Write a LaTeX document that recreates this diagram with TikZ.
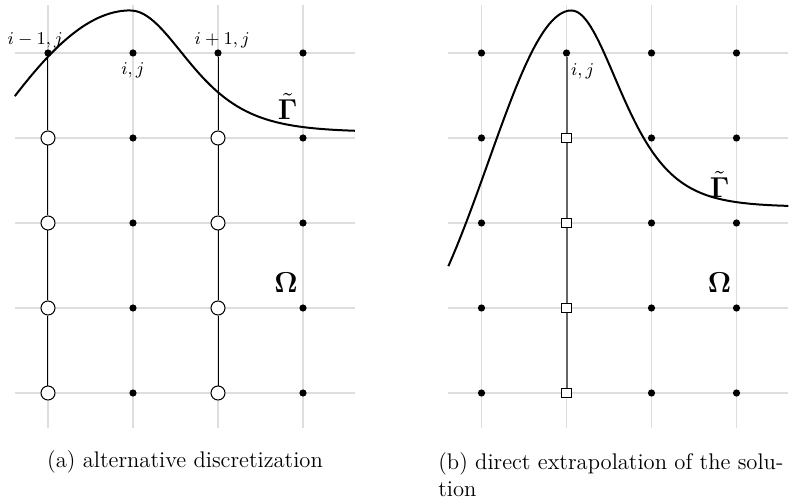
\documentclass[tikz,border=0pt]{standalone}
\usepackage{amsmath}
\usepackage{amssymb}
\usepackage{bm}
\usepackage{xcolor}
\usepackage{tikz}
\usetikzlibrary{positioning,calc}
\definecolor{gridgray}{HTML}{DEDEDE}
\definecolor{stemgray}{HTML}{666666}
\tikzset{
  gridline/.style={draw=gridgray,line width=0.7pt},
  gridpt/.style={circle,fill=black,inner sep=0pt,minimum size=3.6pt},
  holept/.style={circle,draw=black,fill=white,inner sep=0pt,minimum size=7pt,line width=0.5pt},
  ghostpt/.style={rectangle,draw=black,fill=white,inner sep=0pt,minimum size=4.6pt,line width=0.5pt},
  stem/.style={draw=black,line width=0.5pt},
  stemgrey/.style={draw=stemgray,line width=1pt},
  boundary/.style={draw=black,line width=1pt},
  ptlabel/.style={font=\small,inner sep=0pt},
  domlabel/.style={font=\Large,inner sep=0pt},
  subcap/.style={font=\fontsize{11.3}{13.6}\selectfont,inner sep=0pt,align=left}
}

\begin{document}
\begin{tikzpicture}[x=42.5pt,y=42.5pt]
\useasboundingbox (-0.5647,-1.2941) rectangle (8.8118,4.6235);

% (a) alternative discretization
\foreach \r in {0,...,4}{\draw[gridline] (-0.39,\r) -- (3.61,\r);}
\foreach \c in {0,...,3}{\draw[gridline] (\c,-0.41) -- (\c,4.565);}
\draw[boundary] plot[domain=-0.39:0.97,samples=40] (\x,{4.5*exp(-(((\x-0.97)/2.7)^2))})
  -- plot[domain=0.97:3.61,samples=80] (\x,{3.07+1.43/(cosh((\x-0.97)/0.89)^2)});
\foreach \c in {1,3}{\foreach \r in {0,...,4}{\node[gridpt] (a\c\r) at (\c,\r) {};}}
\foreach \c in {0,2}{
  \node[gridpt] (a\c4) at (\c,4) {};
  \foreach \r in {0,...,3}{\node[holept] (a\c\r) at (\c,\r) {};}
}
\foreach \c in {0,2}{\foreach \r [evaluate=\r as \s using int(\r+1)] in {0,...,3}{\draw[stem] (a\c\r) -- (a\c\s);}}
\node[ptlabel] (lm) at (-0.15,4.15) {$i-1,j$};
\node[ptlabel] (lc) at (1.0,3.8) {$i,j$};
\node[ptlabel] (lp) at (2.05,4.15) {$i+1,j$};
\node[domlabel] (ga) at (2.82,3.37) {$\tilde{\bm\Gamma}$};
\node[domlabel] (oa) at (2.8,1.3) {$\bm\Omega$};
\node[subcap] (capa) at (1.612,-0.812) {(a)\ alternative discretization};

% (b) direct extrapolation
\begin{scope}[shift={(5.1,0)}]
\foreach \r in {0,...,4}{\draw[gridline] (-0.39,\r) -- (3.61,\r);}
\foreach \c in {0,...,3}{\draw[gridline] (\c,-0.41) -- (\c,4.565);}
\draw[boundary] plot[domain=-0.39:1.06,samples=50] (\x,{4.5*exp(-(((\x-1.06)/1.38)^2))})
  -- plot[domain=1.06:3.61,samples=80] (\x,{2.19+2.31/(cosh((\x-1.06)/0.76)^2)});
\foreach \c in {0,2,3}{\foreach \r in {0,...,4}{\node[gridpt] (b\c\r) at (\c,\r) {};}}
\node[gridpt] (b14) at (1,4) {};
\foreach \r in {0,...,3}{\node[ghostpt] (b1\r) at (1,\r) {};}
\foreach \r [evaluate=\r as \s using int(\r+1)] in {0,...,3}{\draw[stemgrey] (b1\r) -- (b1\s);}
\node[ptlabel] (lb) at (1.19,3.79) {$i,j$};
\node[domlabel] (gb) at (2.8,2.45) {$\tilde{\bm\Gamma}$};
\node[domlabel] (ob) at (2.8,1.3) {$\bm\Omega$};
\node[subcap,anchor=north west] (capb) at (-0.512,-0.69) {(b)\ direct extrapolation of the solu-\\tion};
\end{scope}
\end{tikzpicture}
\end{document}
